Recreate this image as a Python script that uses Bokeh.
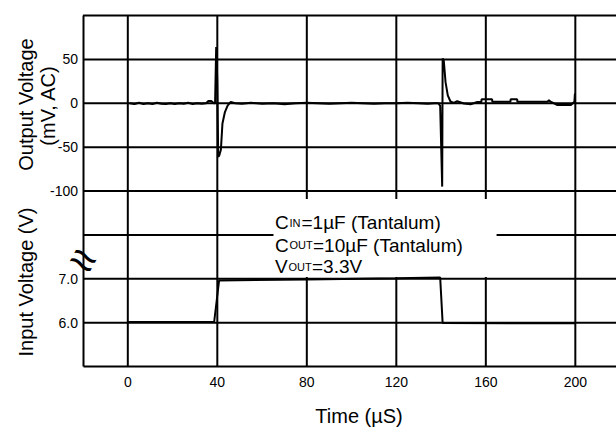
import math
from bokeh.plotting import figure
from bokeh.models import Range1d, FixedTicker, LinearAxis
from bokeh.embed import file_html
from bokeh.resources import INLINE
from bokeh.core.properties import value

# ---- data ----
# Output voltage (mV, AC) vs time (us)
out_t = [0.8, 3, 5, 7, 9, 11, 13, 15, 17, 19, 21, 23, 25, 27, 29, 31, 33, 35, 36, 37.3,
         38.5, 39.0, 39.5, 40.0, 40.4, 40.8, 41.6, 42.3, 43.4, 44.6, 46, 48, 51, 55, 60,
         65, 70, 75, 80, 85, 90, 95, 100, 105, 110, 115, 120, 125, 130, 134, 137, 138.8,
         139.6, 140.5, 140.7, 141.2, 142.0, 143.0, 144.2, 145.7, 147.2, 150.2, 153.2, 156.2,
         158.0, 158.1, 162.8, 162.9, 171.0, 171.1, 174.0, 174.1, 187.6, 188.2, 188.9, 192,
         198, 199.6, 199.8, 200]
out_mv = [0, -1, 0.5, -1, 0, -1, 0.5, -0.5, -1, 0, -1, 0, -0.5, 0.5, -1, 0, -0.5, 0, 2.5, 2.5,
          0, 0, 64, 25, -61, -60, -53, -23, -10, -2.6, 1.5, 0, -0.5, 0.5, -0.5,
          0, -1, 0, 0.5, 0, -0.5, 0, 0.5, 0, -0.5, 0, 0, 0.5, 0, -0.5, 0, 0,
          -3, -95, 51, 49, 24, 9, 2, 0.4, 2.3, -0.3, -1.1, 1.5,
          1.5, 4.5, 4.5, 1.8, 1.8, 4.5, 4.5, 1.8, 1.8, 3.5, 1.8, -2,
          -2, 1.8, 10.5, 10.5]

# Input voltage (V) vs time (us)
in_t = [0, 38.6, 40.8, 80, 120, 139.6, 140.7, 200]
in_v = [6.015, 6.02, 6.96, 6.985, 7.01, 7.03, 5.99, 5.985]

x_ticks = [0, 40, 80, 120, 160, 200]
in_ticks = [6, 7]
in_tick_labels = ["6.0", "7.0"]
out_ticks = [-100, -50, 0, 50]
out_tick_labels = ["-100", "-50", "0", "50"]

notes = [("C", "IN", "=1\u00b5F (Tantalum)"),
         ("C", "OUT", "=10\u00b5F (Tantalum)"),
         ("V", "OUT", "=3.3V")]

FONT = "Liberation Sans"

# plotting box (data units): time -20..218.4 ; input volts 5..13 ; output mV -300..100
T_LO, T_HI = -20, 218.4
V_LO, V_HI = 5, 13
MV_LO, MV_HI = -300, 100
# visible canvas extents in input-volt units (frame covers the whole canvas)
VIEW_T = (-56.894, 218.4)
VIEW_V = (3.5869, 13.3419)

def v_to_mv(v):
    return MV_LO + (v - V_LO) * (MV_HI - MV_LO) / (V_HI - V_LO)

def mv_to_v(mv):
    return V_LO + (mv - MV_LO) * (V_HI - V_LO) / (MV_HI - MV_LO)

p = figure(width=616, height=428, output_backend="svg", toolbar_location=None, title=None,
           x_range=Range1d(*VIEW_T), y_range=Range1d(*VIEW_V),
           x_axis_type=None, y_axis_type=None,
           min_border_left=0, min_border_right=0, min_border_top=0, min_border_bottom=0)
p.extra_y_ranges = {"mv": Range1d(v_to_mv(VIEW_V[0]), v_to_mv(VIEW_V[1]))}
p.outline_line_color = None
p.background_fill_color = "white"
p.border_fill_color = "white"
p.xgrid.visible = False
p.ygrid.visible = False

# grid lines (drawn from the tick values)
grid_levels = [6, 7, 8, 9, 10, 11, 12, 13]
p.segment(x0=x_ticks, y0=[V_LO] * len(x_ticks), x1=x_ticks, y1=[V_HI] * len(x_ticks),
          line_color="black", line_width=2)
p.segment(x0=[T_LO] * len(grid_levels), y0=grid_levels, x1=[T_HI] * len(grid_levels),
          y1=grid_levels, line_color="black", line_width=2)

# axes pinned at the box edges
yaxis = LinearAxis(fixed_location=T_LO, bounds=(V_LO, V_HI))
ytick_vals = in_ticks + [mv_to_v(m) for m in out_ticks]
overrides = {}
for v, lab in zip(in_ticks, in_tick_labels):
    overrides[v] = lab
for m, lab in zip(out_ticks, out_tick_labels):
    overrides[mv_to_v(m)] = lab
yaxis.ticker = FixedTicker(ticks=ytick_vals)
yaxis.major_label_overrides = overrides
xaxis = LinearAxis(fixed_location=V_LO, bounds=(T_LO, T_HI))
xaxis.ticker = FixedTicker(ticks=x_ticks)
for ax in (xaxis, yaxis):
    ax.axis_line_color = "black"
    ax.axis_line_width = 2
    ax.major_tick_line_color = None
    ax.minor_tick_line_color = None
    ax.major_tick_out = 0
    ax.major_tick_in = 0
    ax.major_label_text_font = FONT
    ax.major_label_text_font_size = "14px"
    ax.major_label_text_color = "black"
yaxis.major_label_standoff = 5
xaxis.major_label_standoff = 10
p.add_layout(yaxis, "left")
p.add_layout(xaxis, "below")

# white box behind the annotation (hides grid there)
p.quad(left=[65.1], right=[164.8], bottom=[7.04], top=[8.82], fill_color="white",
       line_color=None)

# traces
p.line(out_t, out_mv, y_range_name="mv", line_color="black", line_width=2)
p.line(in_t, in_v, line_color="black", line_width=2)

# annotation text
main_x = [65.79, 65.79, 65.79]
sub_x = [72.27, 72.27, 71.82]
rest_x = [77.63, 82.77, 82.32]
base_y = [8.282, 7.769, 7.268]
txt = dict(text_font=value(FONT), text_baseline="alphabetic", text_align="left",
           text_color="black")
p.text(x=main_x, y=base_y, text=[n[0] for n in notes], text_font_size="19px", **txt)
p.text(x=sub_x, y=base_y, text=[n[1] for n in notes], text_font_size="11px", **txt)
p.text(x=rest_x, y=base_y, text=[n[2] for n in notes], text_font_size="19px", **txt)

# axis titles
ttl = dict(text_font=value(FONT), text_align="center", text_baseline="middle",
           text_color="black", text_font_size="20px")
p.text(x=[-45.72, -35.66, -45.72], y=[10.971, 10.949, 6.926],
       text=["Output Voltage", "(mV, AC)", "Input Voltage (V)"], angle=math.pi / 2, **ttl)
p.text(x=[103.33], y=[3.883], text=["Time (\u00b5S)"], **ttl)

# axis-break mark
p.text(x=[-19.8], y=[7.43], text=["\u2248"], angle=-0.5, text_font=value(FONT),
       text_align="center", text_baseline="middle", text_color="black",
       text_font_size="46px")

open("out.html", "w").write(file_html(p, INLINE))
